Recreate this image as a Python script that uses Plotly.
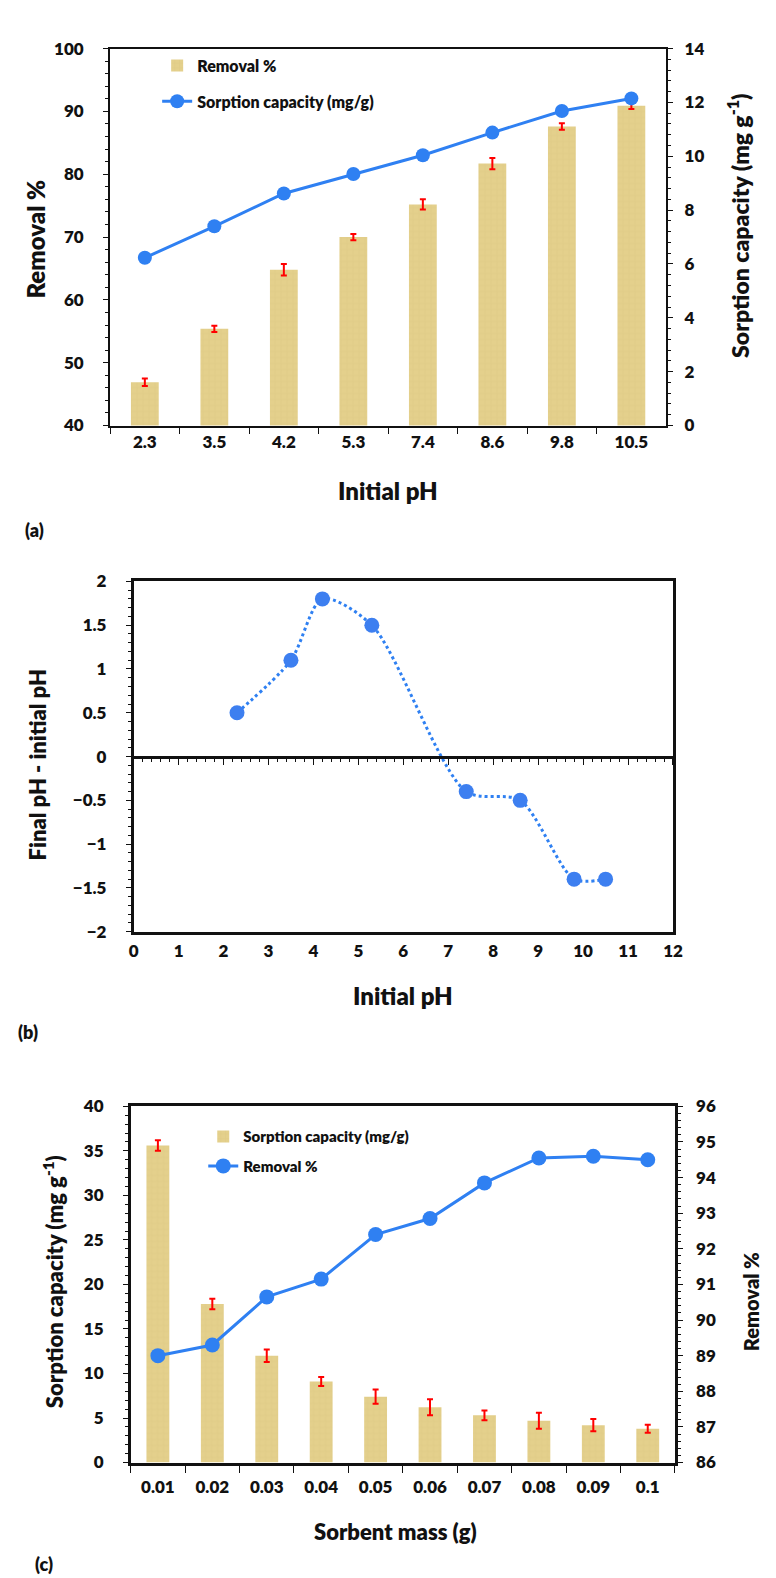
import plotly.graph_objects as go

W, H = 776, 1578

# (a) effect of initial pH
ph_labels = ["2.3", "3.5", "4.2", "5.3", "7.4", "8.6", "9.8", "10.5"]
removal_a = [46.9, 55.4, 64.8, 70.0, 75.2, 81.7, 87.6, 90.9]
removal_a_err = [0.6, 0.5, 0.9, 0.5, 0.8, 0.9, 0.5, 0.5]
capacity_a = [6.23, 7.4, 8.62, 9.34, 10.04, 10.88, 11.68, 12.15]

# (b) pH drift
ph_init = [2.3, 3.5, 4.2, 5.3, 7.4, 8.6, 9.8, 10.5]
ph_delta = [0.5, 1.1, 1.8, 1.5, -0.4, -0.5, -1.4, -1.4]

# (c) effect of sorbent mass
mass_labels = ["0.01", "0.02", "0.03", "0.04", "0.05", "0.06", "0.07", "0.08", "0.09", "0.1"]
capacity_c = [35.6, 17.8, 12.0, 9.1, 7.4, 6.2, 5.3, 4.7, 4.2, 3.8]
capacity_c_err = [0.6, 0.6, 0.7, 0.5, 0.8, 0.9, 0.55, 0.9, 0.7, 0.45]
removal_c = [89.0, 89.3, 90.65, 91.15, 92.4, 92.85, 93.85, 94.55, 94.6, 94.5]

FONT = "Lato"
WT = 800
BAR = "rgb(228,208,140)"
BLUE = "#2f80f2"
INK = "#111111"


def fx(px):
    return px / W


def fy(py):
    return 1 - py / H


fig = go.Figure()

# ---- panel (a)
fig.add_trace(go.Bar(
    x=ph_labels, y=removal_a, name="Removal %", width=0.4,
    marker=dict(color=BAR, line=dict(width=0),
                pattern=dict(shape="+", fgcolor="rgba(190,165,85,0.35)", size=6, solidity=0.15)),
    error_y=dict(type="data", array=removal_a_err, color="red", thickness=2, width=3),
    xaxis="x", yaxis="y", legend="legend", legendgroup="a1"))
fig.add_trace(go.Scatter(
    x=ph_labels, y=capacity_a, name="Sorption capacity (mg/g)", mode="lines+markers",
    line=dict(color=BLUE, width=3), marker=dict(size=14, color=BLUE),
    xaxis="x", yaxis="y2", legend="legend", legendgroup="a2"))

# ---- panel (b)
fig.add_trace(go.Scatter(
    x=ph_init, y=ph_delta, mode="lines+markers", showlegend=False,
    line=dict(color=BLUE, width=3, dash="dot", shape="spline", smoothing=0.8),
    marker=dict(size=15, color="#3d7ff0"),
    xaxis="x2", yaxis="y3"))
# invisible copy so the zero-crossing axis gets drawn
fig.add_trace(go.Scatter(
    x=ph_init, y=ph_delta, mode="lines", opacity=0, showlegend=False, hoverinfo="skip",
    xaxis="x3", yaxis="y3"))

# ---- panel (c)
fig.add_trace(go.Bar(
    x=mass_labels, y=capacity_c, name="Sorption capacity (mg/g)", width=0.42,
    marker=dict(color=BAR, line=dict(width=0),
                pattern=dict(shape="+", fgcolor="rgba(190,165,85,0.35)", size=6, solidity=0.15)),
    error_y=dict(type="data", array=capacity_c_err, color="red", thickness=2, width=3),
    xaxis="x4", yaxis="y4", legend="legend2", legendgroup="c1"))
fig.add_trace(go.Scatter(
    x=mass_labels, y=removal_c, name="Removal %", mode="lines+markers",
    line=dict(color=BLUE, width=3), marker=dict(size=15, color=BLUE),
    xaxis="x4", yaxis="y5", legend="legend2", legendgroup="c2"))

tickfont = dict(family=FONT, size=17, color=INK, weight=WT)
axis_common = dict(showgrid=False, zeroline=False, showline=True, linecolor=INK,
                   tickcolor=INK, tickfont=tickfont, ticks="outside")

dom_a = dict(x=[fx(99), fx(666)], y=[fy(412), fy(30)])
dom_b = dict(x=[fx(123), fx(673)], y=[fy(925), fy(570)])
dom_c = dict(x=[fx(120), fx(675)], y=[fy(1463), fy(1102)])

fig.update_layout(
    width=W, height=H, margin=dict(l=0, r=0, t=0, b=0),
    paper_bgcolor="white", plot_bgcolor="white",
    font=dict(family=FONT, color=INK, weight=WT),
    bargap=0.6,
    xaxis=dict(axis_common, type="category", domain=dom_a["x"], anchor="y",
               range=[-0.5, 7.5], tickson="boundaries", ticklen=6, linewidth=2,
               mirror=True, ticklabelstandoff=0),
    yaxis=dict(axis_common, domain=dom_a["y"], anchor="x", range=[40, 100], dtick=10,
               ticklen=5, linewidth=2, ticklabelstandoff=16,
               minor=dict(dtick=2, ticks="outside", ticklen=3, tickcolor=INK)),
    yaxis2=dict(axis_common, overlaying="y", side="right", anchor="x", range=[0, 14], dtick=2,
                ticklen=5, linewidth=2, ticklabelstandoff=8,
                minor=dict(dtick=0.4, ticks="outside", ticklen=3, tickcolor=INK)),
    xaxis2=dict(axis_common, domain=dom_b["x"], anchor="y3", range=[0, 12], dtick=1,
                ticks="", linewidth=2.5, mirror=True, ticklabelstandoff=2),
    xaxis3=dict(showgrid=False, zeroline=False, showline=True, linecolor=INK, linewidth=2.5,
                overlaying="x2", anchor="free", position=(dom_b["y"][0] + dom_b["y"][1]) / 2,
                range=[0, 12], dtick=1, ticks="outside", ticklen=7, tickcolor=INK,
                showticklabels=False,
                minor=dict(dtick=0.2, ticks="outside", ticklen=4, tickcolor=INK)),
    yaxis3=dict(axis_common, domain=dom_b["y"], anchor="x2", range=[-2, 2], dtick=0.5,
                ticklen=5, linewidth=2.5, mirror=True, ticklabelstandoff=16,
                minor=dict(dtick=0.1, ticks="outside", ticklen=3, tickcolor=INK)),
    xaxis4=dict(axis_common, type="category", domain=dom_c["x"], anchor="y4",
                range=[-0.5, 9.5], tickson="boundaries", ticklen=7, linewidth=3,
                mirror=True, ticklabelstandoff=7),
    yaxis4=dict(axis_common, domain=dom_c["y"], anchor="x4", range=[0, 40], dtick=5,
                ticklen=5, linewidth=2.5, ticklabelstandoff=16,
                minor=dict(dtick=1, ticks="outside", ticklen=3, tickcolor=INK)),
    yaxis5=dict(axis_common, overlaying="y4", side="right", anchor="x4", range=[86, 96], dtick=1,
                ticklen=5, linewidth=2.5, ticklabelstandoff=10,
                minor=dict(dtick=0.2, ticks="outside", ticklen=3, tickcolor=INK)),
    legend=dict(x=fx(147), y=fy(30), xanchor="left", yanchor="top", bgcolor="rgba(0,0,0,0)",
                font=dict(family=FONT, size=16, color=INK, weight=WT),
                traceorder="grouped", tracegroupgap=12),
    legend2=dict(x=fx(194), y=fy(1116), xanchor="left", yanchor="top", bgcolor="rgba(0,0,0,0)",
                 font=dict(family=FONT, size=15, color=INK, weight=WT),
                 traceorder="grouped", tracegroupgap=7),
)

titles = [
    ("Removal %", 22, 223, -90, 24),
    ("Sorption capacity (mg g<sup>-1</sup>)", 740, 210, -90, 23),
    ("Initial pH", 382, 478, 0, 24),
    ("(a)", 22, 518, 0, 18),
    ("Final pH - initial pH", 25, 756, -90, 22),
    ("Initial pH", 398, 990, 0, 24),
    ("(b)", 15, 1027, 0, 18),
    ("Sorption capacity (mg g<sup>-1</sup>)", 42, 1280, -90, 22),
    ("Removal %", 752, 1300, -90, 20),
    ("Sorbent mass (g)", 390, 1533, 0, 22),
    ("(c)", 32, 1566, 0, 18),
]
for text, x, y, ang, size in titles:
    fig.add_annotation(text=text, x=fx(x), y=fy(y), xref="paper", yref="paper",
                       xanchor="center", yanchor="middle", textangle=ang, showarrow=False,
                       font=dict(family=FONT, size=size, color=INK, weight=WT))

fig.write_html("out.html")
